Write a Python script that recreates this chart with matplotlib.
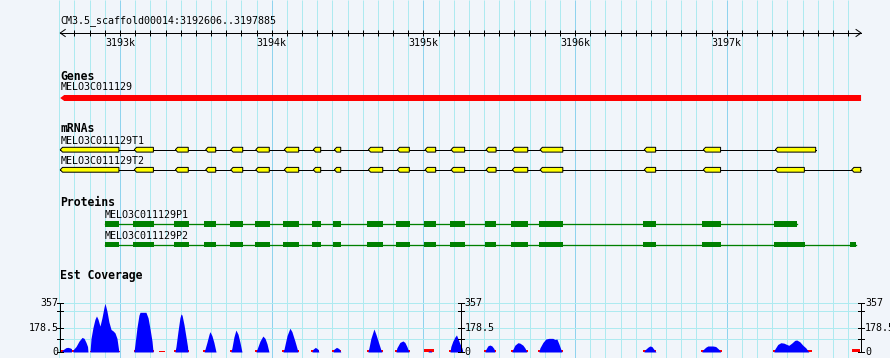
import matplotlib
matplotlib.use("Agg")
import matplotlib.pyplot as plt
from matplotlib.patches import Polygon, Rectangle
import numpy as np

# ------------------------------------------------------------------ data
region_name = "CM3.5_scaffold00014"
region_start = 3192606
region_end = 3197885
kb_ticks = [3193000, 3194000, 3195000, 3196000, 3197000]
kb_labels = ["3193k", "3194k", "3195k", "3196k", "3197k"]

gene_name = "MELO3C011129"
gene_start = 3192606
gene_end = 3197885

t1_name = "MELO3C011129T1"
t1_starts = [3192606, 3193094, 3193365, 3193565, 3193730, 3193895, 3194083, 3194274, 3194413, 3194637,
             3194828, 3195011, 3195182, 3195413, 3195586, 3195769, 3196456, 3196845, 3197320]
t1_ends = [3192993, 3193220, 3193450, 3193631, 3193809, 3193984, 3194178, 3194323, 3194455, 3194732,
           3194907, 3195081, 3195272, 3195479, 3195688, 3195919, 3196531, 3196959, 3197586]

t2_name = "MELO3C011129T2"
t2_starts = [3192606, 3193094, 3193365, 3193565, 3193730, 3193895, 3194083, 3194274, 3194413, 3194637,
             3194828, 3195011, 3195182, 3195413, 3195586, 3195769, 3196456, 3196845, 3197320, 3197823]
t2_ends = [3192993, 3193220, 3193450, 3193631, 3193809, 3193984, 3194178, 3194323, 3194455, 3194732,
           3194907, 3195081, 3195272, 3195479, 3195688, 3195919, 3196531, 3196959, 3197511, 3197883]

p1_name = "MELO3C011129P1"
p1_starts = [3192901, 3193084, 3193356, 3193554, 3193725, 3193890, 3194076, 3194267, 3194402, 3194628,
             3194819, 3195001, 3195175, 3195405, 3195577, 3195761, 3196447, 3196835, 3197310]
p1_ends = [3192991, 3193224, 3193457, 3193633, 3193809, 3193989, 3194180, 3194323, 3194456, 3194733,
           3194911, 3195082, 3195274, 3195478, 3195689, 3195919, 3196533, 3196960, 3197461]

p2_name = "MELO3C011129P2"
p2_starts = [3192901, 3193084, 3193356, 3193554, 3193725, 3193890, 3194076, 3194267, 3194402, 3194628,
             3194819, 3195001, 3195175, 3195405, 3195577, 3195761, 3196447, 3196835, 3197310, 3197810]
p2_ends = [3192991, 3193224, 3193457, 3193633, 3193809, 3193989, 3194180, 3194323, 3194456, 3194733,
           3194911, 3195082, 3195274, 3195478, 3195689, 3195919, 3196533, 3196960, 3197514, 3197850]

# EST coverage (blue), outline vertices
cov_pos = [
    3192614, 3192618, 3192631, 3192644, 3192657, 3192670, 3192680, 3192680,
    3192690, 3192690, 3192710, 3192730, 3192750, 3192763, 3192776, 3192786, 3192789,
    3192802, 3192809, 3192822, 3192835, 3192845, 3192855, 3192868, 3192881, 3192895, 3192901,
    3192914, 3192927, 3192941, 3192954, 3192967, 3192980, 3192993,
    3193092, 3193099, 3193112, 3193125, 3193132, 3193171, 3193185, 3193198, 3193211, 3193218,
    3193362, 3193369, 3193382, 3193395, 3193402, 3193409, 3193422, 3193435, 3193445, 3193448,
    3193554, 3193560, 3193573, 3193587, 3193593, 3193606, 3193619, 3193629, 3193633,
    3193731, 3193738, 3193751, 3193764, 3193778, 3193791, 3193804,
    3193896, 3193903, 3193923, 3193942, 3193956, 3193969, 3193982,
    3194074, 3194081, 3194101, 3194120, 3194133, 3194153, 3194166, 3194173,
    3194265, 3194272, 3194288, 3194305, 3194311,
    3194404, 3194410, 3194427, 3194443, 3194456,
    3194634, 3194641, 3194654, 3194674, 3194687, 3194707, 3194720, 3194727,
    3194819, 3194825, 3194845, 3194865, 3194878, 3194891, 3194905,
    3195030, 3195036, 3195049, 3195056,
    3195175, 3195181, 3195194, 3195208, 3195218, 3195227, 3195241, 3195254, 3195260,
    3195405, 3195412, 3195425, 3195438, 3195451, 3195465, 3195471,
    3195583, 3195590, 3195603, 3195623, 3195636, 3195656, 3195669, 3195682,
    3195761, 3195768, 3195788, 3195807, 3195827, 3195853, 3195867, 3195880, 3195893, 3195906, 3195913,
    3196453, 3196460, 3196480, 3196493, 3196506, 3196526, 3196533,
    3196835, 3196842, 3196861, 3196875, 3196908, 3196927, 3196947, 3196960,
    3197310, 3197316, 3197336, 3197356, 3197376, 3197396, 3197409, 3197428, 3197448, 3197461,
    3197481, 3197501, 3197521, 3197534, 3197541,
]
cov_val = [
    0, 10, 22, 32, 34, 30, 25, 0,
    0, 15, 40, 80, 107, 100, 70, 40, 0,
    0, 100, 180, 240, 264, 240, 190, 250, 330, 357,
    300, 220, 165, 155, 140, 100, 0,
    0, 60, 180, 270, 291, 291, 250, 170, 80, 0,
    0, 40, 150, 250, 279, 270, 200, 110, 40, 0,
    0, 20, 70, 130, 149, 120, 70, 20, 0,
    0, 30, 110, 161, 130, 70, 0,
    0, 20, 80, 117, 100, 60, 0,
    0, 20, 120, 174, 150, 80, 30, 0,
    0, 20, 34, 20, 0,
    0, 20, 34, 25, 0,
    0, 30, 100, 169, 130, 60, 15, 0,
    0, 30, 70, 81, 70, 40, 0,
    0, 8, 8, 0,
    0, 40, 80, 110, 125, 100, 60, 30, 0,
    0, 20, 45, 51, 45, 25, 0,
    0, 20, 50, 68, 65, 50, 30, 0,
    0, 30, 70, 95, 100, 100, 92, 95, 60, 20, 0,
    0, 15, 35, 44, 40, 10, 0,
    0, 15, 35, 44, 44, 40, 20, 0,
    0, 20, 55, 68, 65, 55, 49, 65, 85, 88,
    75, 50, 30, 10, 0,
]

# second (red) coverage layer
red_starts = [3192611, 3192799, 3193089, 3193257, 3193359, 3193550, 3193728, 3193893, 3194071, 3194262,
              3194400, 3194631, 3194816, 3195007, 3195171, 3195402, 3195580, 3195758, 3196450, 3196832,
              3197307, 3197827]
red_ends = [3192789, 3192997, 3193221, 3193297, 3193455, 3193636, 3193807, 3193985, 3194180, 3194315,
            3194460, 3194733, 3194911, 3195069, 3195264, 3195481, 3195692, 3195923, 3196536, 3196971,
            3197560, 3197877]
red_vals = [18, 10, 15, 10, 15, 15, 12, 18, 15, 15,
            15, 15, 15, 20, 15, 15, 15, 15, 15, 15,
            15, 20]

cov_max = 357
cov_tick_vals = [0, 95, 178.5, 299, 357]
cov_tick_labels = {0: "0", 178.5: "178.5", 357: "357"}

# ------------------------------------------------------------------ layout / style
W, H = 890, 358
PX_PER_KB = 151.7
BP_PER_PX = 1000.0 / PX_PER_KB
X_LEFT = 3193000 - 120 * BP_PER_PX
X_RIGHT = X_LEFT + W * BP_PER_PX

BG = "#f1f5fa"
GRID_MINOR = "#aeeaf0"
GRID_MAJOR = "#8fd3ee"
MONO = "DejaVu Sans Mono"
FS = 7.2
FS_BOLD = 8.3
LW = 0.72  # one pixel

fig = plt.figure(figsize=(W / 100, H / 100), dpi=100, facecolor=BG)
ax = fig.add_axes([0, 0, 1, 1])
ax.set_xlim(X_LEFT, X_RIGHT)
ax.set_ylim(H, 0)
ax.axis("off")
ax.set_facecolor(BG)
fig.patch.set_facecolor(BG)

# vertical grid
grid_pos = np.arange(3192600, 3197801, 100)
minor = [g for g in grid_pos if g % 1000 != 0]
major = [g for g in grid_pos if g % 1000 == 0]
ax.vlines(minor, 0, H, colors=GRID_MINOR, lw=LW, zorder=0)
ax.vlines(major, 0, H, colors=GRID_MAJOR, lw=LW, zorder=0)

# ruler
ax.text(region_start, 21, f"{region_name}:{region_start}..{region_end}", family=MONO, size=FS,
        ha="left", va="center")
ax.plot([region_start, region_end], [33, 33], color="black", lw=LW)
ah = 5 * BP_PER_PX
ax.plot([region_start + ah, region_start, region_start + ah], [29.5, 33, 36.5], color="black", lw=LW)
ax.plot([region_end - ah, region_end, region_end - ah], [29.5, 33, 36.5], color="black", lw=LW)
ax.vlines(minor[1:], 30, 36, colors="black", lw=LW)
ax.vlines(kb_ticks, 30, 36, colors="black", lw=LW)
for t, lab in zip(kb_ticks, kb_labels):
    ax.text(t, 42.5, lab, family=MONO, size=FS, ha="center", va="center")

# Genes track
ax.text(region_start, 76, "Genes", family=MONO, size=FS_BOLD, weight="bold", ha="left", va="center")
ax.text(gene_start, 87, gene_name, family=MONO, size=FS, ha="left", va="center")
tip = 4 * BP_PER_PX
ax.add_patch(Polygon([(gene_start, 98), (gene_start + tip, 95), (gene_end, 95), (gene_end, 101),
                      (gene_start + tip, 101)], closed=True, facecolor="#ff0000", edgecolor="none"))

# mRNA track
ax.text(region_start, 128.5, "mRNAs", family=MONO, size=FS_BOLD, weight="bold", ha="left", va="center")


def draw_mrna(name, starts, ends, ylab, yc):
    ax.text(starts[0], ylab, name, family=MONO, size=FS, ha="left", va="center")
    ax.plot([starts[0], ends[-1]], [yc, yc], color="black", lw=LW, zorder=2)
    t = 2.3 * BP_PER_PX
    for s, e in zip(starts, ends):
        ax.add_patch(Polygon([(s, yc), (s + t, yc - 2.4), (e, yc - 2.4), (e, yc + 2.4), (s + t, yc + 2.4)],
                             closed=True, facecolor="#ffff00", edgecolor="black", lw=LW, zorder=3))


draw_mrna(t1_name, t1_starts, t1_ends, 140.5, 149.7)
draw_mrna(t2_name, t2_starts, t2_ends, 160.5, 169.8)

# Proteins track
ax.text(region_start, 202, "Proteins", family=MONO, size=FS_BOLD, weight="bold", ha="left", va="center")


def draw_protein(name, starts, ends, ylab, yc):
    ax.text(starts[0], ylab, name, family=MONO, size=FS, ha="left", va="center")
    ax.plot([starts[0], ends[-1]], [yc, yc], color="#008000", lw=LW * 1.3, zorder=2)
    for s, e in zip(starts, ends):
        ax.add_patch(Rectangle((s, yc - 2.85), e - s, 5.7, facecolor="#008000", edgecolor="none", zorder=3))


draw_protein(p1_name, p1_starts, p1_ends, 214.5, 223.8)
draw_protein(p2_name, p2_starts, p2_ends, 236, 244.5)

# Est Coverage track
ax.text(region_start, 276, "Est Coverage", family=MONO, size=FS_BOLD, weight="bold", ha="left", va="center")

base_y, top_y = 352, 303.3
cax = fig.add_axes([0, (H - base_y) / H, 1, (base_y - top_y) / H])
cax.set_xlim(X_LEFT, X_RIGHT)
cax.set_ylim(0, cov_max)
cax.axis("off")
cax.patch.set_alpha(0)

cax.hlines(cov_tick_vals, region_start, region_end, colors=GRID_MINOR, lw=LW, zorder=0)
cax.bar(red_starts, red_vals, width=np.array(red_ends) - np.array(red_starts), align="edge",
        color="#ff0000", lw=0, zorder=1)
cax.fill_between(cov_pos, cov_val, 0, color="#0000ff", lw=0, zorder=2)

mid = (region_start + region_end) / 2
tk = 3 * BP_PER_PX
for xa, side in [(region_start, "left"), (mid, "right"), (region_end, "right")]:
    cax.plot([xa, xa], [0, cov_max], color="black", lw=LW, zorder=4, clip_on=False)
    for v in cov_tick_vals:
        cax.plot([xa - tk, xa + tk], [v, v], color="black", lw=LW, zorder=4, clip_on=False)
        if v in cov_tick_labels:
            if side == "left":
                cax.text(xa - 1.5 * BP_PER_PX, v, cov_tick_labels[v], family=MONO, size=FS,
                         ha="right", va="center")
            else:
                cax.text(xa + 4 * BP_PER_PX, v, cov_tick_labels[v], family=MONO, size=FS,
                         ha="left", va="center")

fig.savefig("out.png", dpi=100, facecolor=BG)
